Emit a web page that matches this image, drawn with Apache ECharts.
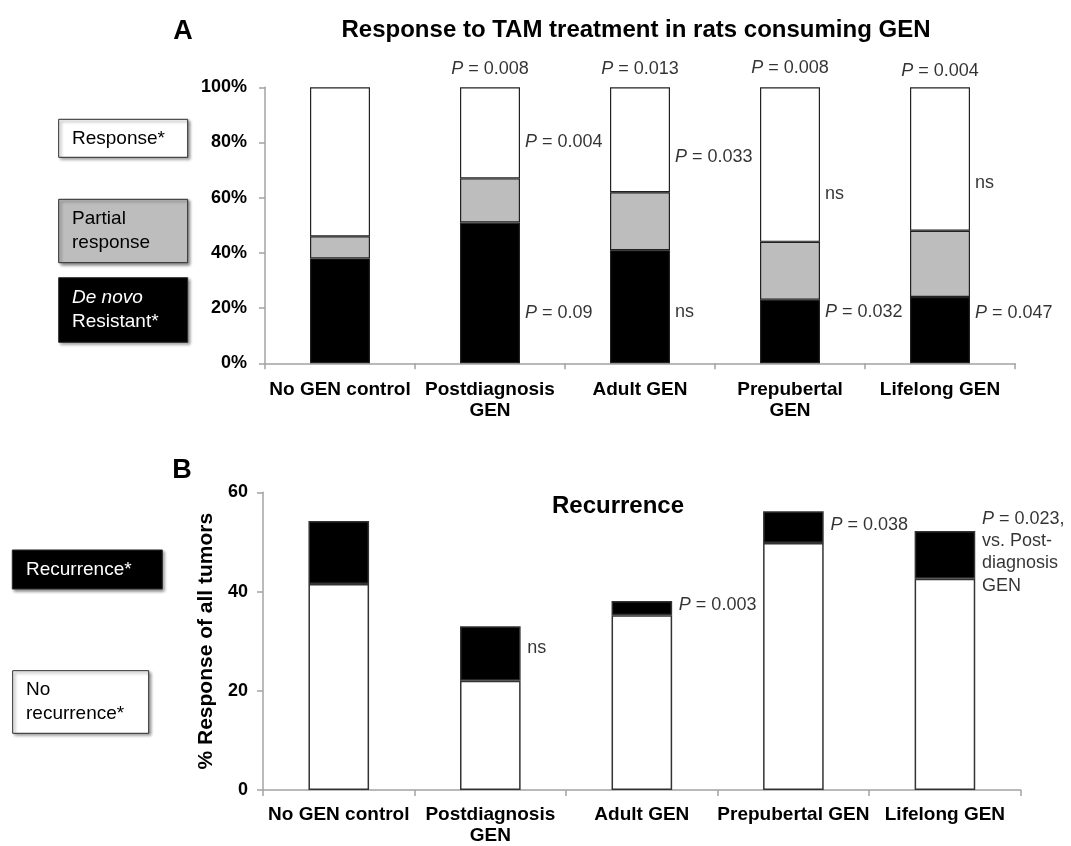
<!DOCTYPE html>
<html>
<head>
<meta charset="utf-8">
<script src="https://cdn.jsdelivr.net/npm/echarts@6/dist/echarts.min.js"></script>
<style>
  html, body { margin: 0; padding: 0; background: #fff; }
  #chart { width: 1071px; height: 846px; }
</style>
</head>
<body>
<div id="chart"></div>
<script>
// ---------- DATA ----------
const categoriesA = ['No GEN control', 'Postdiagnosis\nGEN', 'Adult GEN', 'Prepubertal\nGEN', 'Lifelong GEN'];
const categoriesB = ['No GEN control', 'Postdiagnosis\nGEN', 'Adult GEN', 'Prepubertal GEN', 'Lifelong GEN'];

// Panel A: % of tumors (stacked to 100%)
const deNovoResistant = [38, 51, 41, 23, 24];
const partialResponse = [8, 16, 21, 21, 24];
const response = [54, 33, 38, 56, 52];

// Panel B: % response of all tumors
const noRecurrence = [41.5, 22, 35.2, 49.8, 42.6];
const recurrence = [12.7, 11, 2.9, 6.4, 9.6];

// Annotations: [category index, value position, text, side]
const annotationsA = [
  [1, 106.6, 'P = 0.008', 'top'],
  [2, 106.6, 'P = 0.013', 'top'],
  [3, 107.0, 'P = 0.008', 'top'],
  [4, 106.0, 'P = 0.004', 'top'],
  [1, 80.3, 'P = 0.004', 'right'],
  [1, 18.1, 'P = 0.09', 'right'],
  [2, 74.6, 'P = 0.033', 'right'],
  [2, 18.7, 'ns', 'right'],
  [3, 61.3, 'ns', 'right'],
  [3, 18.7, 'P = 0.032', 'right'],
  [4, 65.2, 'ns', 'right'],
  [4, 18.3, 'P = 0.047', 'right']
];
const annotationsB = [
  [1, 28.7, 'ns', 'right'],
  [2, 37.3, 'P = 0.003', 'right'],
  [3, 53.5, 'P = 0.038', 'right'],
  [4, 47.9, 'P = 0.023,\nvs. Post-\ndiagnosis\nGEN', 'right']
];

const titleA = 'Response to TAM treatment in rats consuming GEN';
const titleB = 'Recurrence';
const yNameB = '% Response of all tumors';

// ---------- CHART ----------
const FONT = '"Liberation Sans", Arial, Helvetica, sans-serif';
const AXIS_GRAY = '#a3a3a3';
const chart = echarts.init(document.getElementById('chart'), null, { renderer: 'canvas' });

function italicP(t) {
  return t.split('\n').map(function (line) {
    return line.indexOf('P ') === 0 ? '{i|P}' + line.slice(1) : line;
  }).join('\n');
}

function annotationSeries(list, xi, yi, dist) {
  return {
    type: 'scatter',
    xAxisIndex: xi, yAxisIndex: yi,
    symbolSize: 0,
    clip: false,
    silent: true,
    z: 10,
    itemStyle: { color: 'rgba(0,0,0,0)' },
    data: list.map(function (a) {
      return {
        value: [a[0], a[1]],
        label: {
          show: true,
          position: a[3] === 'top' ? 'inside' : 'right',
          distance: dist,
          align: a[3] === 'top' ? 'center' : 'left',
          formatter: italicP(a[2]),
          color: '#000',
          textBorderWidth: 0,
          fontFamily: FONT,
          fontSize: 18,
          lineHeight: 22.3,
          rich: { i: { fontStyle: 'italic', fontSize: 18, fontFamily: FONT, color: '#000', lineHeight: 22.3 } }
        }
      };
    })
  };
}

const axisLineStyle = { color: AXIS_GRAY, width: 1.5 };

function legendBox(x, y, w, h, fill, textColor, text, tx) {
  return [
    {
      type: 'rect',
      shape: { x: x, y: y, width: w, height: h },
      style: {
        fill: fill, stroke: '#2a2a2a', lineWidth: 1,
        shadowBlur: 3, shadowOffsetX: 2, shadowOffsetY: 2, shadowColor: 'rgba(0,0,0,0.45)'
      },
      z: 5
    },
    {
      type: 'text',
      style: {
        x: tx, y: y + h / 2,
        text: text,
        fill: textColor,
        font: '19px ' + FONT,
        verticalAlign: 'middle',
        align: 'left',
        lineHeight: 24,
        rich: { i: { fontStyle: 'italic', fontSize: 19, fontFamily: FONT, fill: textColor, lineHeight: 24 } }
      },
      z: 6
    }
  ];
}

const graphics = [].concat(
  [
    { type: 'text', style: { x: 183, y: 32, text: 'A', font: 'bold 27px ' + FONT, fill: '#000', align: 'center', verticalAlign: 'middle' } },
    { type: 'text', style: { x: 182, y: 471, text: 'B', font: 'bold 27px ' + FONT, fill: '#000', align: 'center', verticalAlign: 'middle' } }
  ],
  legendBox(58.7, 119.3, 129, 38, '#ffffff', '#000', 'Response*', 72),
  legendBox(58.7, 199.3, 129, 63.4, '#bdbdbd', '#000', 'Partial\nresponse', 72),
  legendBox(58.7, 277.7, 129, 64.6, '#000000', '#fff', '{i|De novo}\nResistant*', 72),
  legendBox(12.3, 550, 150, 39, '#000000', '#fff', 'Recurrence*', 26),
  legendBox(12.7, 670.7, 136, 62.6, '#ffffff', '#000', 'No\nrecurrence*', 26)
);

const option = {
  animation: false,
  backgroundColor: '#ffffff',
  textStyle: { fontFamily: FONT },
  title: [
    { text: titleA, left: 631, top: 13, textAlign: 'center',
      textStyle: { fontFamily: FONT, fontSize: 24, fontWeight: 'bold', color: '#000' } },
    { text: titleB, left: 613, top: 489, textAlign: 'center',
      textStyle: { fontFamily: FONT, fontSize: 24, fontWeight: 'bold', color: '#000' } }
  ],
  grid: [
    { left: 265, top: 87.3, width: 750, height: 276 },
    { left: 263, top: 492.3, width: 757.7, height: 302.7 }
  ],
  xAxis: [
    {
      type: 'category', gridIndex: 0, data: categoriesA,
      axisLine: { lineStyle: axisLineStyle },
      axisTick: { show: true, length: 6, lineStyle: { color: AXIS_GRAY, width: 1.5 } },
      axisLabel: { interval: 0, margin: 16, color: '#000', fontFamily: FONT, fontSize: 19, fontWeight: 'bold', lineHeight: 21 }
    },
    {
      type: 'category', gridIndex: 1, data: categoriesB,
      axisLine: { lineStyle: axisLineStyle },
      axisTick: { show: true, length: 6, lineStyle: { color: AXIS_GRAY, width: 1.5 } },
      axisLabel: { interval: 0, margin: 14, color: '#000', fontFamily: FONT, fontSize: 19, fontWeight: 'bold', lineHeight: 21 }
    }
  ],
  yAxis: [
    {
      type: 'value', gridIndex: 0, min: 0, max: 100, interval: 20,
      axisLine: { show: true, lineStyle: axisLineStyle },
      axisTick: { show: true, length: 6, lineStyle: { color: AXIS_GRAY, width: 1.5 } },
      splitLine: { show: false },
      axisLabel: { formatter: '{value}%', margin: 18, color: '#000', fontFamily: FONT, fontSize: 18, fontWeight: 'bold' }
    },
    {
      type: 'value', gridIndex: 1, min: 0, max: 60, interval: 20,
      name: yNameB, nameLocation: 'middle', nameGap: 46,
      nameTextStyle: { color: '#000', fontFamily: FONT, fontSize: 21, fontWeight: 'bold' },
      axisLine: { show: true, lineStyle: axisLineStyle },
      axisTick: { show: true, length: 6, lineStyle: { color: AXIS_GRAY, width: 1.5 } },
      splitLine: { show: false },
      axisLabel: { margin: 15, color: '#000', fontFamily: FONT, fontSize: 18, fontWeight: 'bold' }
    }
  ],
  series: [
    {
      name: 'De novo Resistant*', type: 'bar', stack: 'A', xAxisIndex: 0, yAxisIndex: 0,
      barWidth: '40%', data: deNovoResistant,
      itemStyle: { color: '#000000', borderColor: '#222', borderWidth: 1.2 }
    },
    {
      name: 'Partial response', type: 'bar', stack: 'A', xAxisIndex: 0, yAxisIndex: 0,
      barWidth: '40%', data: partialResponse,
      itemStyle: { color: '#bdbdbd', borderColor: '#222', borderWidth: 1.2 }
    },
    {
      name: 'Response*', type: 'bar', stack: 'A', xAxisIndex: 0, yAxisIndex: 0,
      barWidth: '40%', data: response,
      itemStyle: { color: '#ffffff', borderColor: '#222', borderWidth: 1.2 }
    },
    {
      name: 'No recurrence*', type: 'bar', stack: 'B', xAxisIndex: 1, yAxisIndex: 1,
      barWidth: '40%', data: noRecurrence,
      itemStyle: { color: '#ffffff', borderColor: '#333', borderWidth: 1.5 }
    },
    {
      name: 'Recurrence*', type: 'bar', stack: 'B', xAxisIndex: 1, yAxisIndex: 1,
      barWidth: '40%', data: recurrence,
      itemStyle: { color: '#000000', borderColor: '#333', borderWidth: 1.5 }
    },
    annotationSeries(annotationsA, 0, 0, 35),
    annotationSeries(annotationsB, 1, 1, 37)
  ],
  graphic: graphics
};

chart.setOption(option);
</script>
</body>
</html>
